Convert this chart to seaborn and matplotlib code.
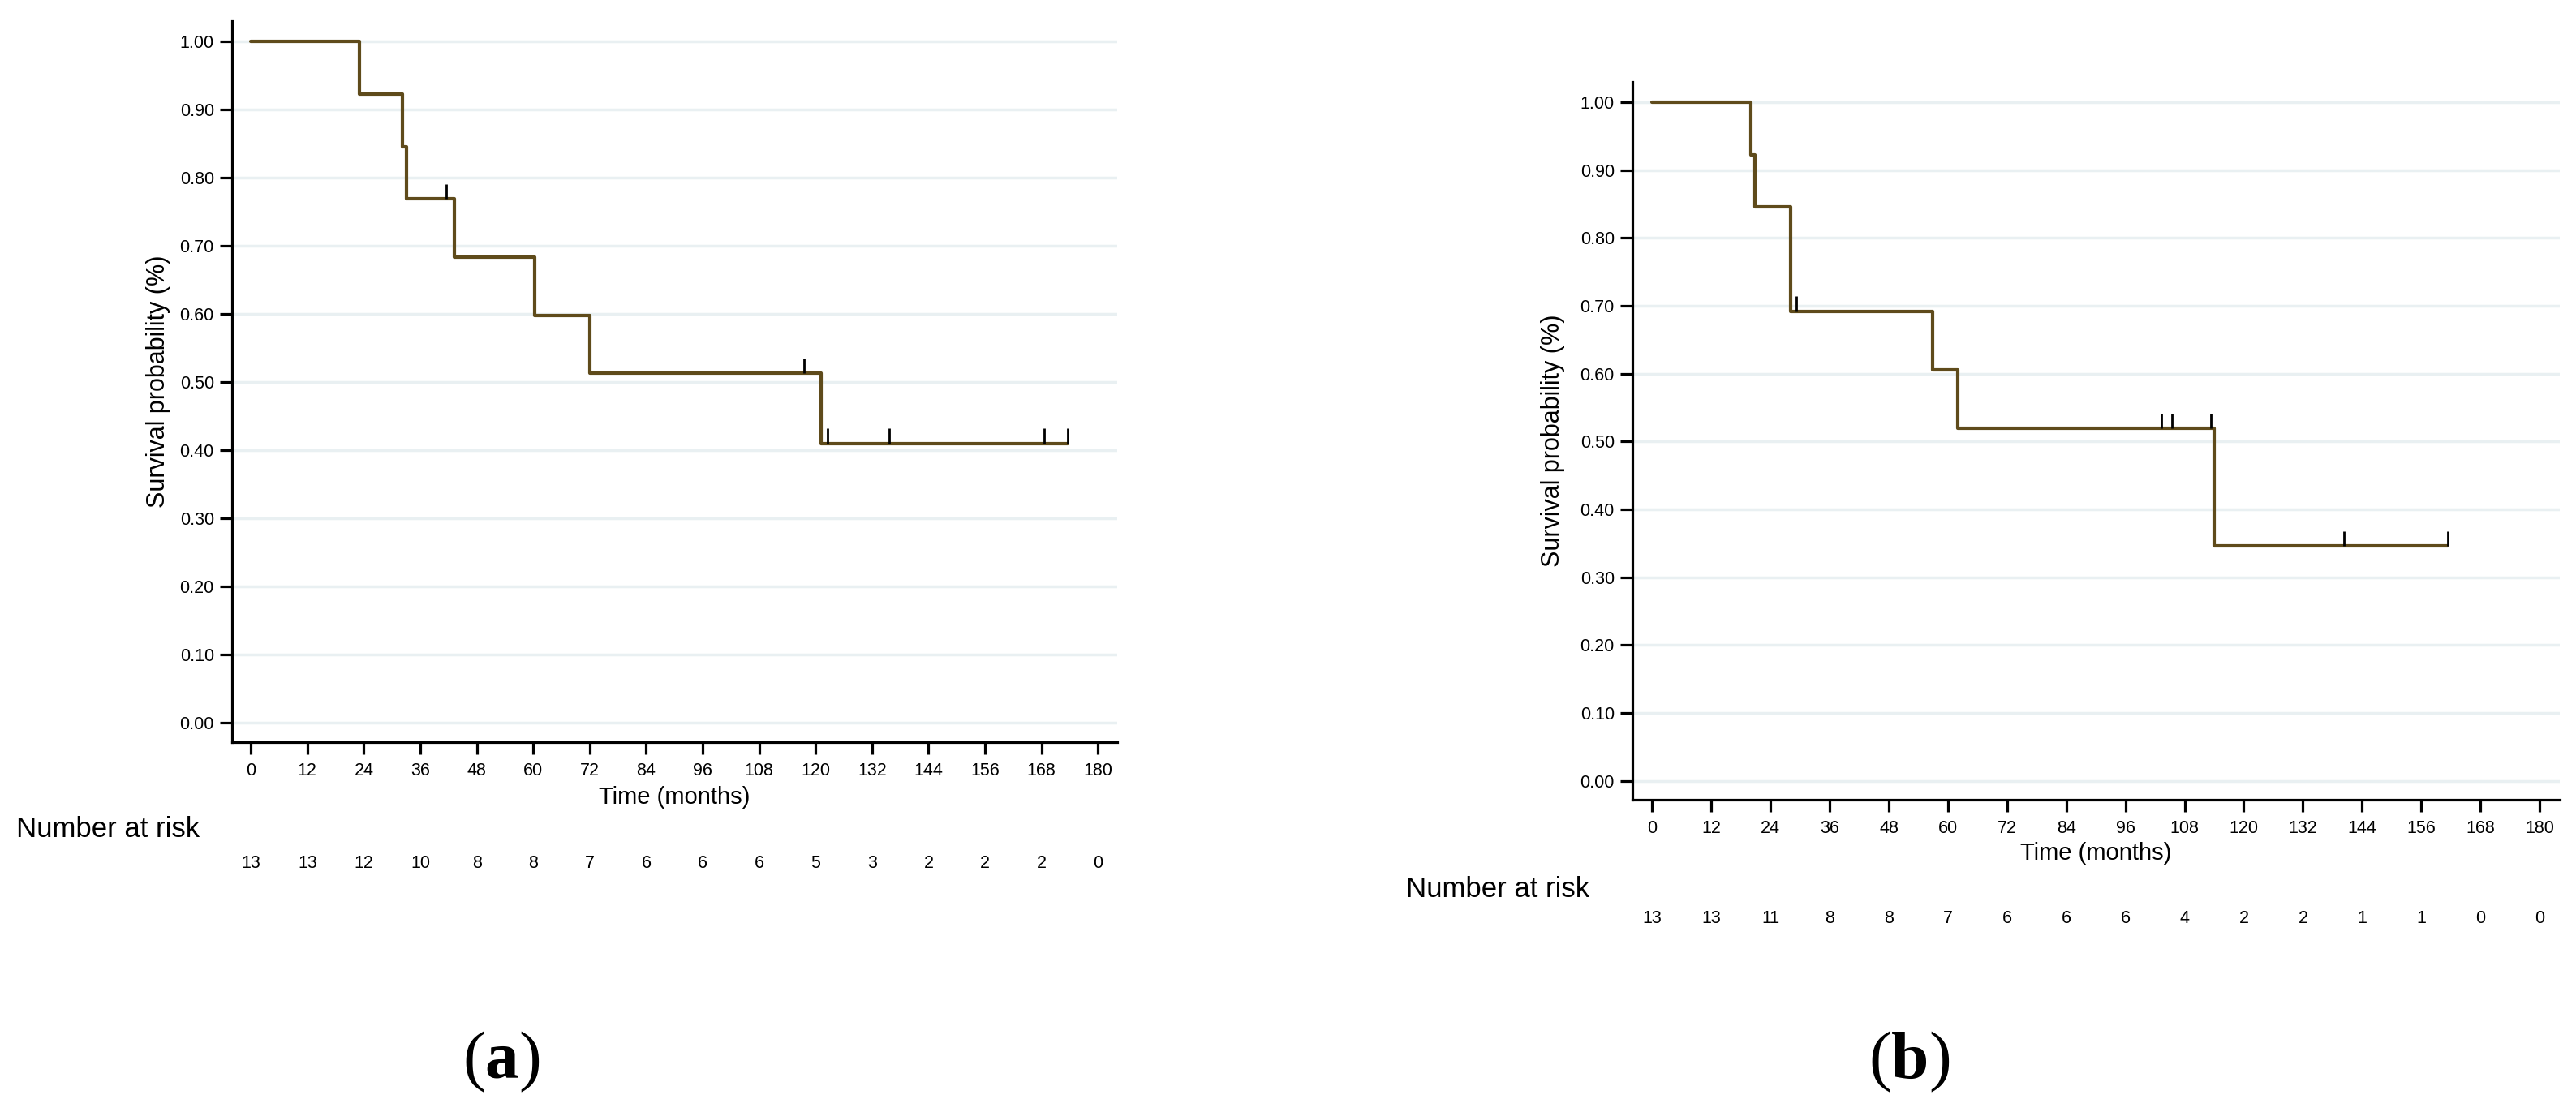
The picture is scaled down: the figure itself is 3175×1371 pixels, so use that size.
import matplotlib
matplotlib.use("Agg")
import matplotlib.pyplot as plt
import matplotlib.transforms as mtransforms
import seaborn as sns
import pandas as pd

# panel (a): Kaplan-Meier steps
step_t_a = [0, 23.1, 32.2, 33.1, 43.2, 60.3, 72.1, 121.2, 173.6]
step_s_a = [1.0, 0.923, 0.846, 0.769, 0.684, 0.598, 0.513, 0.410, 0.410]
cens_t_a = [41.5, 117.6, 122.6, 135.6, 168.6, 173.6]
cens_s_a = [0.769, 0.513, 0.410, 0.410, 0.410, 0.410]
risk_a = [13, 13, 12, 10, 8, 8, 7, 6, 6, 6, 5, 3, 2, 2, 2, 0]

# panel (b)
step_t_b = [0, 20.0, 20.8, 28.1, 56.9, 62.0, 114.0, 161.4]
step_s_b = [1.0, 0.923, 0.846, 0.692, 0.606, 0.519, 0.346, 0.346]
cens_t_b = [29.3, 103.3, 105.5, 113.4, 140.4, 161.4]
cens_s_b = [0.692, 0.519, 0.519, 0.519, 0.346, 0.346]
risk_b = [13, 13, 11, 8, 8, 7, 6, 6, 6, 4, 2, 2, 1, 1, 0, 0]

months = list(range(0, 181, 12))
yticks = [i / 10 for i in range(11)]

sns.set_style("ticks")
plt.rcParams['font.family'] = ['Liberation Sans', 'DejaVu Sans']
plt.rcParams['mathtext.fontset'] = 'custom'
plt.rcParams['mathtext.rm'] = 'Liberation Serif'
plt.rcParams['mathtext.bf'] = 'Liberation Serif:bold'
plt.rcParams['text.color'] = 'black'
plt.rcParams['axes.labelcolor'] = 'black'
plt.rcParams['xtick.color'] = 'black'
plt.rcParams['ytick.color'] = 'black'

W, H = 3175, 1371
fig = plt.figure(figsize=(W / 100, H / 100), dpi=100)
fig.patch.set_facecolor('white')

curve_col = '#5f4b1b'
grid_col = '#e9f0f2'


def km_panel(rect, step_t, step_s, cens_t, cens_s, risk, lab_x, nar_xy, num_y, xl_y):
    ax = fig.add_axes(rect)
    ax.set_facecolor('white')
    df = pd.DataFrame({'t': step_t, 's': step_s})
    sns.lineplot(data=df, x='t', y='s', ax=ax, drawstyle='steps-post', estimator=None,
                 sort=False, color=curve_col, linewidth=3.0)
    ax.vlines(cens_t, cens_s, [s + 0.022 for s in cens_s], color='black', linewidth=2.0, zorder=3)
    ax.set_xlim(-4, 184.1)
    ax.set_ylim(-0.028, 1.03)
    ax.set_xticks(months)
    ax.set_xticklabels([str(m) for m in months])
    ax.set_yticks(yticks)
    ax.set_yticklabels(['%.2f' % v for v in yticks])
    ax.yaxis.grid(True, color=grid_col, linewidth=2.5)
    ax.xaxis.grid(False)
    ax.set_axisbelow(True)
    for side in ['top', 'right']:
        ax.spines[side].set_visible(False)
    for side in ['left', 'bottom']:
        ax.spines[side].set_linewidth(2.3)
        ax.spines[side].set_color('black')
    ax.tick_params(axis='both', length=11, width=2.3, color='black', labelsize=15.5,
                   labelcolor='black')
    ax.tick_params(axis='x', pad=7)
    ax.tick_params(axis='y', pad=5)
    ax.set_xlabel('Time (months)', fontsize=21)
    ax.set_ylabel('Survival probability (%)', fontsize=22)
    ax.xaxis.set_label_coords(0.5, xl_y)
    ax.yaxis.set_label_coords(lab_x, 0.5)
    fig.text(nar_xy[0] / W, 1 - nar_xy[1] / H, 'Number at risk', ha='left', va='center', fontsize=25)
    tr = mtransforms.blended_transform_factory(ax.transData, fig.transFigure)
    for m, n in zip(months, risk):
        ax.text(m, 1 - num_y / H, str(n), transform=tr, ha='center', va='center', fontsize=15.5)
    return ax


ax_a = km_panel([286 / W, 1 - 915 / H, 1091 / W, 889 / H], step_t_a, step_s_a, cens_t_a, cens_s_a,
                risk_a, -0.0697, (20, 1023), 1065, -0.0607)
ax_b = km_panel([2012 / W, 1 - 986 / H, 1143 / W, 885 / H], step_t_b, step_s_b, cens_t_b, cens_s_b,
                risk_b, -0.0726, (1733, 1096), 1133, -0.0588)

fig.text(618 / W, 1 - 1309 / H, r'($\mathbf{a}$)', ha='center', va='center', fontsize=60,
         family='Liberation Serif')
fig.text(2353 / W, 1 - 1309 / H, r'($\mathbf{b}$)', ha='center', va='center', fontsize=60,
         family='Liberation Serif')

fig.savefig('out.png', dpi=100, facecolor='white')
